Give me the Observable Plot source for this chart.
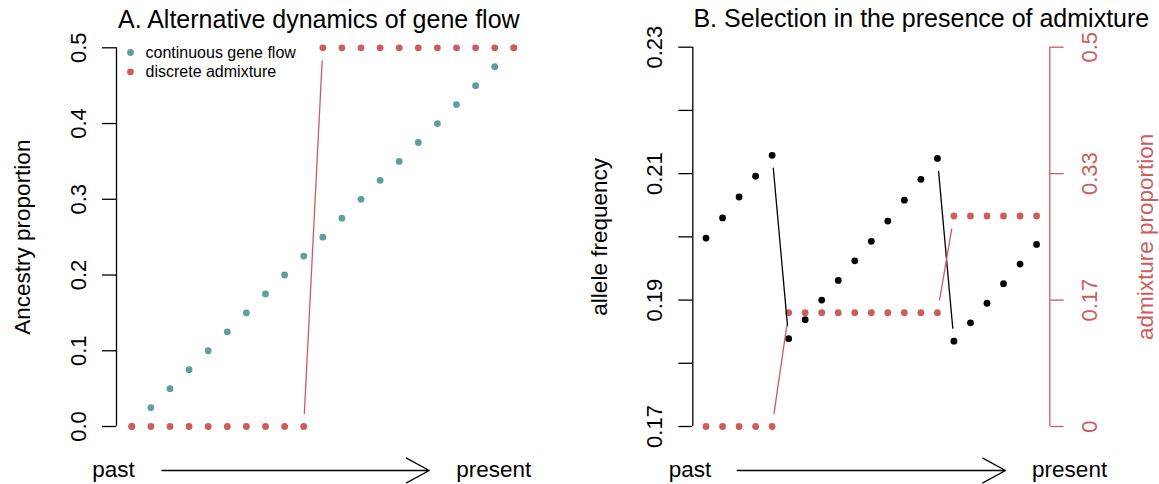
<!DOCTYPE html>
<html><head><meta charset="utf-8">
<script src="https://cdn.jsdelivr.net/npm/d3@7"></script>
<script src="https://cdn.jsdelivr.net/npm/@observablehq/plot@0.6"></script>
<style>
body{margin:0;background:#fff;}
#wrap{display:flex;width:1159px;height:484px;overflow:hidden;}
#wrap svg{overflow:visible;}
</style></head><body><div id="wrap"></div>
<script>
// ---------- data ----------
const generations = [1,2,3,4,5,6,7,8,9,10,11,12,13,14,15,16,17,18,19,20,21];
// Panel A
const continuousFlow = [0,0.025,0.05,0.075,0.1,0.125,0.15,0.175,0.2,0.225,0.25,0.275,0.3,0.325,0.35,0.375,0.4,0.425,0.45,0.475,0.5];
const discreteAdmixture = [0,0,0,0,0,0,0,0,0,0,0.5,0.5,0.5,0.5,0.5,0.5,0.5,0.5,0.5,0.5,0.5];
const ancestryTicks = [0,0.1,0.2,0.3,0.4,0.5];
const seriesNames = ["continuous gene flow","discrete admixture"];
// Panel B
const alleleFrequency = [0.1998,0.2030,0.2063,0.2096,0.2129,0.1839,0.1869,0.1900,0.1931,0.1962,0.1993,0.2025,0.2058,0.2091,0.2124,0.1835,0.1864,0.1895,0.1926,0.1957,0.1988];
const admixtureProportion = [0,0,0,0,0,0.15,0.15,0.15,0.15,0.15,0.15,0.15,0.15,0.15,0.15,0.2775,0.2775,0.2775,0.2775,0.2775,0.2775];
const freqTicks = [0.17,0.18,0.19,0.20,0.21,0.22,0.23];
const freqTickLabels = ["0.17","","0.19","","0.21","","0.23"];
const admixTicks = [0,1/6,1/3,0.5];
const admixTickLabels = ["0","0.17","0.33","0.5"];
const titles = ["A. Alternative dynamics of gene flow","B. Selection in the presence of admixture"];

// ---------- style ----------
const RED = "#CD5C5C", TEAL = "#5F9EA0";
const FONT = "'Liberation Sans', Arial, Helvetica, sans-serif";
const LW = 1.3, R = 3.4, GAP = 13;
const n = generations.length;
const xDomain = [generations[0] - 0.04*(n-1), generations[n-1] + 0.04*(n-1)];

// segments drawn by R's type="b" only where the jump is long enough to survive the gaps
function jumps(xs, ys, minJump, map = v => v) {
  const out = [];
  for (let i = 1; i < xs.length; i++) {
    if (Math.abs(ys[i] - ys[i-1]) > minJump)
      out.push({x1: xs[i-1], y1: map(ys[i-1]), x2: xs[i], y2: map(ys[i])});
  }
  return out;
}

// ---------- panel A ----------
const rowsA = generations.map((g, i) => ({g, cont: continuousFlow[i], disc: discreteAdmixture[i]}));
const rowA = -0.0581; // annotation row below the plot, in y units
const plotA = Plot.plot({
  width: 580, height: 484,
  marginLeft: 116, marginRight: 51.4, marginTop: 47.3, marginBottom: 58,
  style: {fontFamily: FONT, fontSize: "22px", background: "white", overflow: "visible", color: "black"},
  x: {domain: xDomain, axis: null},
  y: {domain: [ancestryTicks[0], ancestryTicks.at(-1)], axis: null},
  marks: [
    Plot.ruleX([xDomain[0]], {y1: ancestryTicks[0], y2: ancestryTicks.at(-1), stroke: "black", strokeWidth: LW}),
    Plot.axisY(ancestryTicks, {anchor: "left", tickSize: 14, tickPadding: 17, tickRotate: -90,
      tickFormat: d3.format(".1f"), fontSize: 22, strokeWidth: LW, label: null, color: "black"}),
    Plot.text(["Ancestry proportion"], {frameAnchor: "left", rotate: -90, dx: -94, fontSize: 22.5, textAnchor: "middle", lineAnchor: "middle"}),
    Plot.text([titles[0]], {frameAnchor: "top", dx: -4, dy: -20, lineAnchor: "bottom", fontSize: 25}),
    Plot.dot(rowsA, {x: "g", y: "cont", r: R, fill: TEAL}),
    Plot.dot(rowsA, {x: "g", y: "disc", r: R, fill: RED}),
    Plot.arrow(jumps(generations, discreteAdmixture, 0.05), {x1: "x1", y1: "y1", x2: "x2", y2: "y2",
      stroke: RED, strokeWidth: LW, headLength: 0, inset: GAP}),
    // legend
    Plot.dot([seriesNames[0]], {frameAnchor: "top-left", dx: 14, dy: 4.7, r: R, fill: TEAL}),
    Plot.dot([seriesNames[1]], {frameAnchor: "top-left", dx: 14, dy: 24, r: R, fill: RED}),
    Plot.text([seriesNames[0]], {frameAnchor: "top-left", dx: 29, dy: 4.7, textAnchor: "start", lineAnchor: "middle", fontSize: 16}),
    Plot.text([seriesNames[1]], {frameAnchor: "top-left", dx: 29, dy: 24, textAnchor: "start", lineAnchor: "middle", fontSize: 16}),
    // past -> present
    Plot.text(["past"], {x: 0.04, y: rowA, fontSize: 22.5, lineAnchor: "middle", dy: -1}),
    Plot.text(["present"], {x: 19.95, y: rowA, fontSize: 22.5, lineAnchor: "middle", dy: -1}),
    Plot.arrow([0], {x1: 2.58, x2: 16.57, y1: rowA, y2: rowA, stroke: "black", strokeWidth: LW, headLength: 29.8, headAngle: 57})
  ]
});

// ---------- panel B ----------
const fLo = freqTicks[0], fHi = freqTicks.at(-1);
const aLo = admixTicks[0], aHi = admixTicks.at(-1);
const admixToY = a => fLo + (a - aLo) * (fHi - fLo) / (aHi - aLo);
const rowsB = generations.map((g, i) => ({g, freq: alleleFrequency[i], admix: admixToY(admixtureProportion[i])}));
const rowB = 0.16304;
const plotB = Plot.plot({
  width: 579, height: 484,
  marginLeft: 112.3, marginRight: 109.7, marginTop: 46.7, marginBottom: 58,
  style: {fontFamily: FONT, fontSize: "22px", background: "white", overflow: "visible", color: "black"},
  x: {domain: xDomain, axis: null},
  y: {domain: [fLo, fHi], axis: null},
  marks: [
    Plot.ruleX([xDomain[0]], {y1: fLo, y2: fHi, stroke: "black", strokeWidth: LW}),
    Plot.axisY(freqTicks, {anchor: "left", tickSize: 14, tickPadding: 17, tickRotate: -90,
      tickFormat: (d, i) => freqTickLabels[i], fontSize: 22, strokeWidth: LW, label: null, color: "black"}),
    Plot.ruleX([xDomain[1]], {y1: fLo, y2: fHi, stroke: RED, strokeWidth: LW}),
    Plot.axisY(admixTicks.map(admixToY), {anchor: "right", tickSize: 13.4, tickPadding: 18.5, tickRotate: -90, lineAnchor: "top",
      tickFormat: (d, i) => admixTickLabels[i], fontSize: 22, strokeWidth: LW, label: null, color: RED}),
    Plot.text(["allele frequency"], {frameAnchor: "left", rotate: -90, dx: -93, fontSize: 22.5, textAnchor: "middle", lineAnchor: "middle"}),
    Plot.text(["admixture proportion"], {frameAnchor: "right", rotate: -90, dx: 96, fontSize: 22.5, textAnchor: "middle", lineAnchor: "middle", fill: RED}),
    Plot.text([titles[1]], {frameAnchor: "top", dx: 50, dy: -20, lineAnchor: "bottom", fontSize: 25}),
    Plot.dot(rowsB, {x: "g", y: "freq", r: R, fill: "black"}),
    Plot.dot(rowsB, {x: "g", y: "admix", r: R, fill: RED}),
    Plot.arrow(jumps(generations, alleleFrequency, 0.01), {x1: "x1", y1: "y1", x2: "x2", y2: "y2",
      stroke: "black", strokeWidth: LW, headLength: 0, inset: GAP}),
    Plot.arrow(jumps(generations, admixtureProportion, 0.05, admixToY), {x1: "x1", y1: "y1", x2: "x2", y2: "y2",
      stroke: RED, strokeWidth: LW, headLength: 0, inset: GAP}),
    Plot.text(["past"], {x: 0.03, y: rowB, fontSize: 22.5, lineAnchor: "middle", dy: -1}),
    Plot.text(["present"], {x: 23.0, y: rowB, fontSize: 22.5, lineAnchor: "middle", dy: -1}),
    Plot.arrow([0], {x1: 2.89, x2: 19.12, y1: rowB, y2: rowB, stroke: "black", strokeWidth: LW, headLength: 29.8, headAngle: 57})
  ]
});

const wrap = document.getElementById("wrap");
wrap.appendChild(plotA);
wrap.appendChild(plotB);
</script>
</body></html>
